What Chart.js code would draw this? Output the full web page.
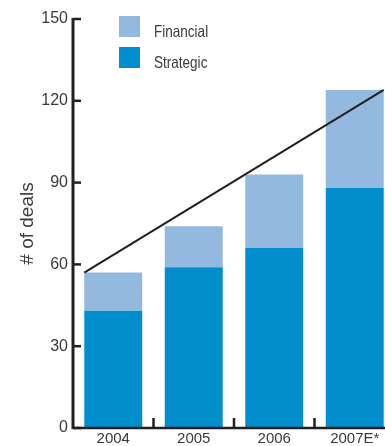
<!DOCTYPE html>
<html>
<head>
<meta charset="utf-8">
<script src="https://cdn.jsdelivr.net/npm/chart.js@4/dist/chart.umd.min.js"></script>
<style>
html,body{margin:0;padding:0;background:#fff;overflow:hidden;width:385px;height:446px;}
#wrap{position:absolute;left:0;top:0;width:395px;height:446px;}
</style>
</head>
<body>
<div id="wrap"><canvas id="c" width="395" height="446"></canvas></div>
<script>
const years = ['2004', '2005', '2006', '2007E*'];
const strategic = [43, 59, 66, 88];
const financial = [14, 15, 27, 36];
const trendValues = [57, 124];
const yTicks = [0, 30, 60, 90, 120, 150];

const STRAT = '#008fcc';
const FIN = '#93b9df';
const INK = '#231f20';
const TXT = '#3a3a3a';
const FONT = "'Liberation Sans', Arial, sans-serif";
const BAR_PCT = 0.72;

const trendPoints = [
  { x: 0 - BAR_PCT / 2, y: trendValues[0] },
  { x: (years.length - 1) + BAR_PCT / 2, y: trendValues[1] }
];

const axesPlugin = {
  id: 'axesPlugin',
  afterDatasetsDraw(chart) {
    const { ctx, chartArea: a, scales } = chart;
    const y = scales.y, x = scales.x;
    ctx.save();
    ctx.strokeStyle = INK;
    ctx.lineCap = 'butt';
    ctx.lineWidth = 3;
    ctx.beginPath();
    ctx.moveTo(a.left, y.getPixelForValue(150) - 1);
    ctx.lineTo(a.left, a.bottom + 1);
    ctx.stroke();
    ctx.lineWidth = 2.5;
    yTicks.forEach(v => {
      const py = y.getPixelForValue(v);
      ctx.beginPath();
      ctx.moveTo(a.left, py);
      ctx.lineTo(a.left + 8, py);
      ctx.stroke();
    });
    ctx.lineWidth = 2.5;
    ctx.beginPath();
    ctx.moveTo(a.left, a.bottom);
    ctx.lineTo(a.right, a.bottom);
    ctx.stroke();
    for (let i = 1; i < years.length; i++) {
      const px = (x.getPixelForValue(i - 1) + x.getPixelForValue(i)) / 2;
      ctx.beginPath();
      ctx.moveTo(px, a.bottom);
      ctx.lineTo(px, a.bottom - 10);
      ctx.stroke();
    }
    ctx.restore();
  }
};

const legendPlugin = {
  id: 'legendPlugin',
  afterDraw(chart) {
    const { ctx } = chart;
    const items = [chart.data.datasets[1], chart.data.datasets[0]];
    ctx.save();
    ctx.textBaseline = 'alphabetic';
    ctx.textAlign = 'left';
    items.forEach((ds, i) => {
      const top = 16 + i * 31;
      ctx.fillStyle = ds.backgroundColor;
      ctx.fillRect(119, top, 21, 21);
      ctx.save();
      ctx.translate(154, top + 20.5);
      ctx.scale(0.82, 1);
      ctx.font = '16.5px ' + FONT;
      ctx.fillStyle = TXT;
      ctx.fillText(ds.label, 0, 0);
      ctx.restore();
    });
    ctx.restore();
  }
};

new Chart(document.getElementById('c'), {
  type: 'bar',
  data: {
    labels: years,
    datasets: [
      { label: 'Strategic', data: strategic, backgroundColor: STRAT, borderWidth: 0,
        barPercentage: BAR_PCT, categoryPercentage: 1, grouped: false, order: 2 },
      { label: 'Financial', data: financial, backgroundColor: FIN, borderWidth: 0,
        barPercentage: BAR_PCT, categoryPercentage: 1, grouped: false, order: 2 },
      { type: 'line', label: 'Trend', data: trendPoints, xAxisID: 'xl', yAxisID: 'y2',
        borderColor: INK, borderWidth: 2, pointRadius: 0, fill: false, order: 1, tension: 0 }
    ]
  },
  options: {
    responsive: false,
    animation: false,
    events: [],
    layout: { padding: { top: 19, right: 0, left: 0, bottom: 0 } },
    plugins: { legend: { display: false }, tooltip: { enabled: false } },
    scales: {
      x: {
        type: 'category',
        stacked: true,
        offset: true,
        grid: { display: false, drawTicks: false },
        border: { display: false },
        ticks: { color: TXT, font: { family: FONT, size: 15 }, padding: 2, maxRotation: 0, autoSkip: false },
        afterFit(s) { s.height = 18; }
      },
      xl: {
        type: 'linear',
        display: false,
        offset: false,
        grid: { offset: false },
        min: -0.5,
        max: years.length - 0.5
      },
      y: {
        stacked: true,
        min: 0,
        max: 150,
        grid: { display: false, drawTicks: false },
        border: { display: false },
        ticks: { stepSize: 30, color: TXT, font: { family: FONT, size: 16 }, padding: 5 },
        title: { display: true, text: '# of deals', color: TXT, font: { family: FONT, size: 19 }, padding: { top: 16, bottom: 0 } },
        afterFit(s) { s.width = 73; }
      },
      y2: {
        display: false,
        min: 0,
        max: 150
      }
    }
  },
  plugins: [axesPlugin, legendPlugin]
});
</script>
</body>
</html>
